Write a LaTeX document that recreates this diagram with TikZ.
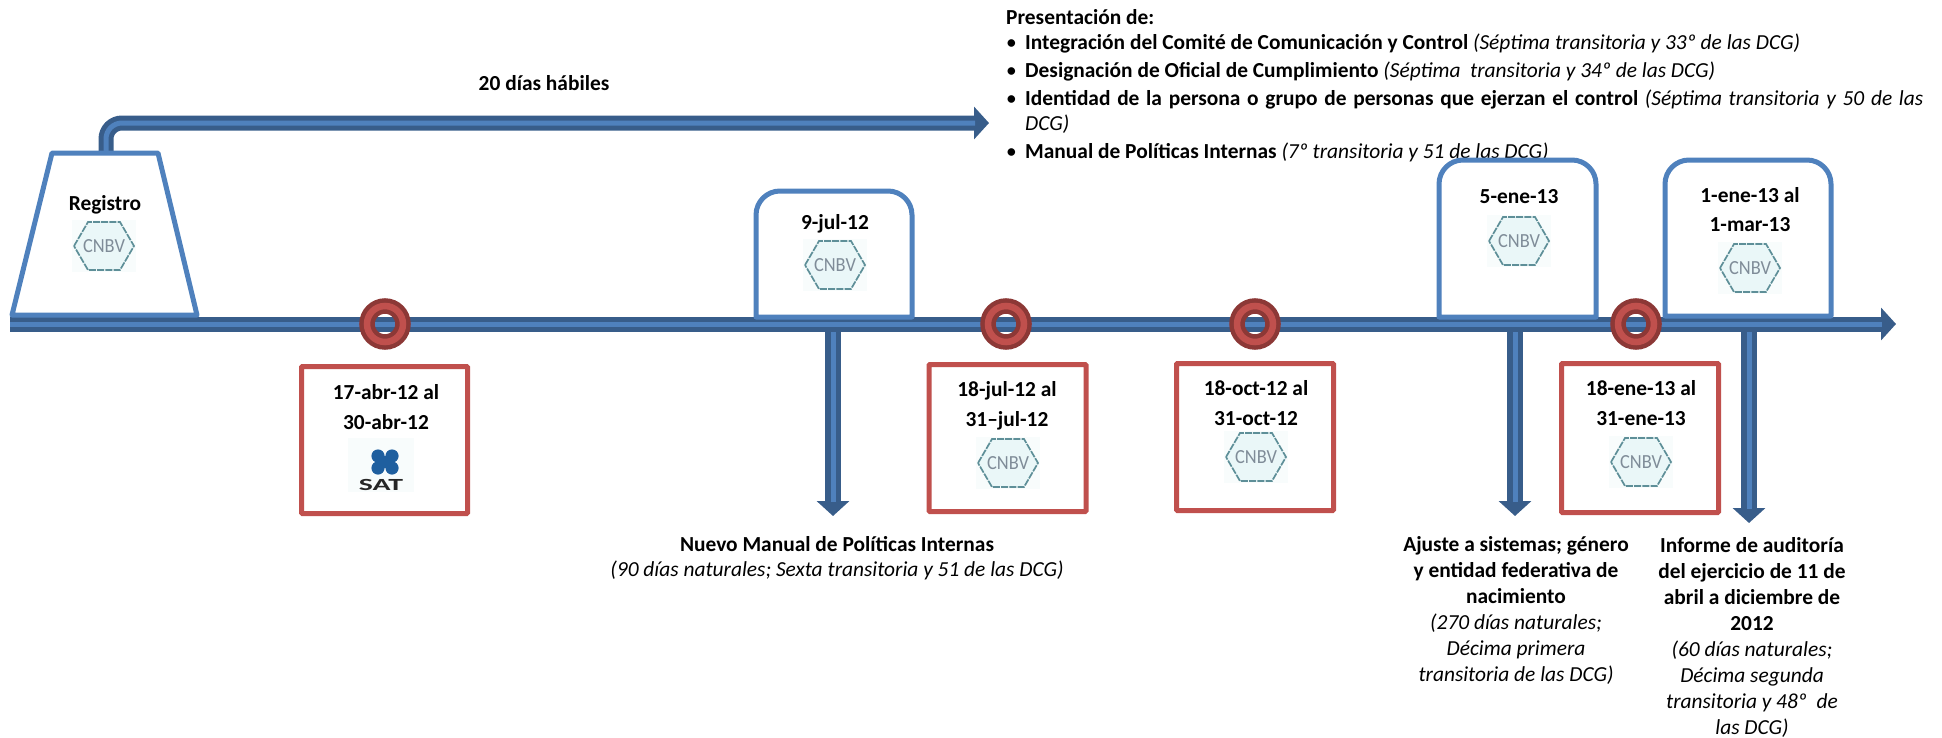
\documentclass[tikz,border=0pt]{standalone}
\usepackage{fontspec}
\setmainfont{Carlito}
\usetikzlibrary{arrows.meta}
\definecolor{barblue}{HTML}{4F81BD}
\definecolor{bardark}{HTML}{385D8A}
\definecolor{ringred}{HTML}{C0504D}
\definecolor{ringdark}{HTML}{8C3836}
\definecolor{logoteal}{HTML}{5E8F98}
\definecolor{logopale}{HTML}{EAF7F8}
\definecolor{logobg}{HTML}{F8FCFC}
\definecolor{logogray}{HTML}{7F8C98}
\definecolor{satblue}{HTML}{1F5F9F}
\tikzset{
  barout/.style={line width=15pt,draw=bardark,rounded corners=16pt},
  vbarout/.style={line width=16pt,draw=bardark},
  barhead/.style={-{Triangle[length=15pt,width=32pt,fill=bardark]}},
  barin/.style={line width=5pt,draw=barblue,rounded corners=16pt},
  bluebox/.style={draw=barblue,line width=5pt,fill=white,line join=round},
  redbox/.style={draw=ringred,line width=5pt,fill=white,rounded corners=1pt,inner sep=0pt},
  ring/.style={circle,inner sep=0pt,minimum size=36pt,draw=ringdark,double=ringred,line width=4.5pt,double distance=6.5pt},
  bt/.style={inner sep=0pt,font=\fontsize{21.4}{25}\selectfont\bfseries},
  dt/.style={inner sep=0pt,align=center,font=\fontsize{21.4}{29.5}\selectfont\bfseries},
  lt/.style={inner sep=0pt,anchor=base west,font=\fontsize{21.4}{25}\selectfont},
  cnbv/.pic={
    \fill[logobg] (-32,-26) rectangle (32,26);
    \draw[logoteal,fill=logopale,line width=1.7pt,dash pattern=on 7pt off 1.2pt] (-30,0) -- (-16,-24) -- (16,-24) -- (30,0) -- (16,24) -- (-16,24) -- cycle;
    \node[inner sep=0pt,text=logogray,xscale=.92,font=\fontsize{20}{20}\selectfont] (-t) at (0,0) {CNBV};
  },
  satlogo/.pic={
    \fill[logobg] (-33,-27) rectangle (33,27);
    \fill[satblue] (-3,-9) circle (6.6) (11,-9) circle (6.6) (-3,3) circle (6.6) (11,3) circle (6.6);
    \fill[satblue] (0,-9) rectangle (8,3);
    \node[inner sep=0pt,xscale=1.75,font=\fontsize{17}{17}\selectfont\bfseries,text=black!85] (-t) at (0,20) {SAT};
  },
}
\begin{document}
\begin{tikzpicture}[x=1pt,y=-1pt]
\useasboundingbox (0,0) rectangle (1942,737);
% named connector ends
\coordinate (ls) at (10,324);
\coordinate (le) at (1896,324);
\coordinate (rs) at (106,156);
\coordinate (rc) at (106,123);
\coordinate (re) at (989,123);
\coordinate (d1s) at (833,328);
\coordinate (d1e) at (833,516);
\coordinate (d2s) at (1515,328);
\coordinate (d2e) at (1515,516);
\coordinate (d3s) at (1749,328);
\coordinate (d3e) at (1749,523);
% down and upper arrows
\draw[vbarout,barhead] (d1s) -- (d1e);
\draw[barin] (d1s) -- ([yshift=14pt]d1e);
\draw[vbarout,barhead] (d2s) -- (d2e);
\draw[barin] (d2s) -- ([yshift=14pt]d2e);
\draw[vbarout,barhead] (d3s) -- (d3e);
\draw[barin] (d3s) -- ([yshift=14pt]d3e);
\draw[barout,barhead] (rs) -- (rc) -- (re);
\draw[barin] (rs) -- (rc) -- ([xshift=-14pt]re);
% main line
\draw[barout,barhead] (ls) -- (le);
\draw[barin] (ls) -- ([xshift=-14pt]le);
% upper text
\node[bt,anchor=base west] (pres) at (1006,24) {Presentación de:};
\node[lt] (b1) at (1006,49) {\textbullet};
\node[lt] (l1) at (1025,49) {\textbf{Integración del Comité de Comunicación y Control} \textit{(Séptima transitoria y 33º de las DCG)}};
\node[lt] (b2) at (1006,77) {\textbullet};
\node[lt] (l2) at (1025,77) {\textbf{Designación de Oficial de Cumplimiento} \textit{(Séptima\ \ transitoria y 34º de las DCG)}};
\node[lt] (b3) at (1006,105) {\textbullet};
\node[lt] (l3) at (1025,105) {\makebox[898pt][s]{\textbf{Identidad de la persona o grupo de personas que ejerzan el control} \textit{(Séptima transitoria y 50 de las}}};
\node[lt] (l3b) at (1025,130) {\textit{DCG)}};
\node[lt] (b4) at (1006,158) {\textbullet};
\node[lt] (l4) at (1025,158) {\textbf{Manual de Políticas Internas} \textit{(7º transitoria y 51 de las DCG)}};
\node[bt] (dias) at (544,83) {20 días hábiles};
% Registro
\draw[bluebox] (52,153) -- (158,153) -- (197,315) -- (12,315) -- cycle;
\node[bt] (reg) at (105,205) {Registro};
\pic (lg1) at (104,246) {cnbv};
% Blue date boxes
\draw[bluebox] (756,317) [rounded corners=24pt] -- (756,191) -- (912,191) [sharp corners] -- (912,317) -- cycle;
\node[bt] (d1) at (835,224) {9-jul-12};
\pic (lg2) at (835,265) {cnbv};
\draw[bluebox] (1439,317) [rounded corners=24pt] -- (1439,160) -- (1596,160) [sharp corners] -- (1596,317) -- cycle;
\node[bt] (d2) at (1519,197) {5-ene-13};
\pic (lg3) at (1519,241) {cnbv};
\draw[bluebox] (1665,316) [rounded corners=24pt] -- (1665,160) -- (1831,160) [sharp corners] -- (1831,316) -- cycle;
\node[dt] (d3) at (1750,209.5) {1-ene-13 al\\1-mar-13};
\pic (lg4) at (1750,268) {cnbv};
% Rings
\node[ring] (c1) at (385,324) {};
\node[ring] (c2) at (1006,324) {};
\node[ring] (c3) at (1255,324) {};
\node[ring] (c4) at (1636,324) {};
% Red boxes
\node[redbox,minimum width=166pt,minimum height=147pt] (r1) at (384.5,440) {};
\node[dt] (r1t) at (386,407) {17-abr-12 al\\30-abr-12};
\pic (sat) at (381,465) {satlogo};
\node[redbox,minimum width=157pt,minimum height=147pt] (r2) at (1007.5,438) {};
\node[dt] (r2t) at (1007,406) {18-jul-12 al\\31–jul-12};
\pic (lg5) at (1008,463) {cnbv};
\node[redbox,minimum width=157pt,minimum height=147pt] (r3) at (1255,437) {};
\node[dt] (r3t) at (1256,403) {18-oct-12 al\\31-oct-12};
\pic (lg6) at (1256,457) {cnbv};
\node[redbox,minimum width=157pt,minimum height=149pt] (r4) at (1640,438) {};
\node[dt] (r4t) at (1641,403) {18-ene-13 al\\31-ene-13};
\pic (lg7) at (1641,462) {cnbv};
% Lower text
\node[inner sep=0pt,align=center,anchor=north,font=\fontsize{21.4}{25}\selectfont] (n1) at (837,536) {\textbf{Nuevo Manual de Políticas Internas}\\\textit{(90 días naturales; Sexta transitoria y 51 de las DCG)}};
\node[inner sep=0pt,align=center,anchor=north,font=\fontsize{21.4}{26}\selectfont] (n2) at (1516,536) {\textbf{Ajuste a sistemas; género}\\\textbf{y entidad federativa de}\\\textbf{nacimiento}\\\textit{(270 días naturales;}\\\textit{Décima primera}\\\textit{transitoria de las DCG)}};
\node[inner sep=0pt,align=center,anchor=north,font=\fontsize{21.4}{26}\selectfont] (n3) at (1752,537) {\textbf{Informe de auditoría}\\\textbf{del ejercicio de 11 de}\\\textbf{abril a diciembre de}\\\textbf{2012}\\\textit{(60 días naturales;}\\\textit{Décima segunda}\\\textit{transitoria y 48º\ \ de}\\\textit{las DCG)}};
\end{tikzpicture}
\end{document}
